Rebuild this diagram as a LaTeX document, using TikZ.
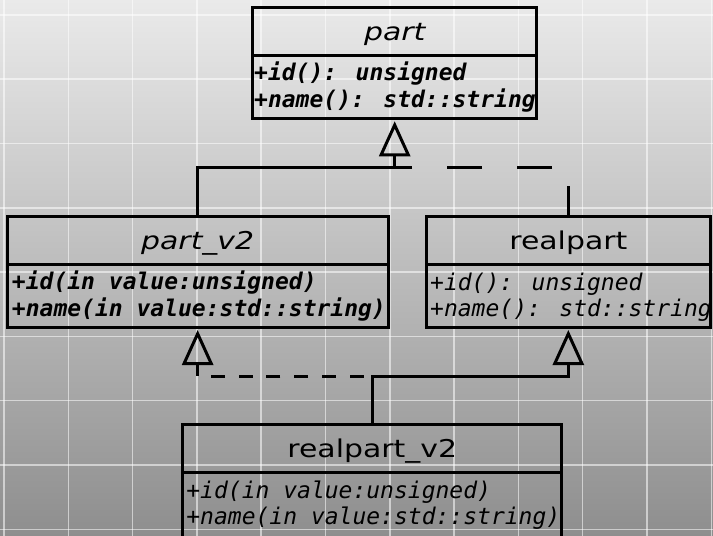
\documentclass[tikz,border=0pt]{standalone}
\usepackage{fontspec}
\usetikzlibrary{arrows.meta}
\newfontfamily\titlefont[FakeStretch=1.22]{DejaVu Sans}
\newfontfamily\attrfont{DejaVu Sans Mono}
\definecolor{bgtop}{HTML}{EAEAEA}
\definecolor{bgbot}{HTML}{8E8E8E}
\tikzset{
  classbox/.style={draw=black, line width=3pt, inner sep=0pt, outer sep=0pt, anchor=north west},
  divider/.style={draw=black, line width=3pt},
  titletext/.style={inner sep=0pt, anchor=base, font=\titlefont\fontsize{24.5}{30}\selectfont},
  attrtext/.style={inner sep=0pt, anchor=base west, font=\attrfont\fontsize{#1}{26}\selectfont\itshape},
  conn/.style={draw=black, line width=3pt, line join=miter},
  gen/.style={-{Triangle[open, length=35pt, width=31pt]}, shorten >=3pt},
  gridline/.style={draw=white, opacity=0.55, line width=1.5pt}
}
\begin{document}
\begin{tikzpicture}[x=1pt,y=-1pt]
\useasboundingbox (0,0) rectangle (713,536);
\clip (0,0) rectangle (713,536);
\shade[top color=bgtop, bottom color=bgbot] (0,0) rectangle (713,536);
\foreach \i in {0,...,11} \draw[gridline] ({4+64.3*\i},0) -- ({4+64.3*\i},536);
\foreach \j in {0,...,8} \draw[gridline] (0,{14.9+64.3*\j}) -- (713,{14.9+64.3*\j});

% classes
\node[classbox, minimum width=284pt, minimum height=111pt] (part) at (252.7,7.3) {};
\draw[divider] ([yshift=-48.5pt]part.north west) -- ([yshift=-48.5pt]part.north east);
\node[titletext] (partT) at ([yshift=-33pt]part.north) {\itshape part};
\node[attrtext=23] (partA) at ([xshift=1.3pt,yshift=-73pt]part.north west) {\bfseries +id(): unsigned};
\node[attrtext=23] (partB) at ([xshift=1.3pt,yshift=-99.7pt]part.north west) {\bfseries +name(): std::string};

\node[classbox, minimum width=380.7pt, minimum height=111pt] (pv2) at (7.3,216) {};
\draw[divider] ([yshift=-48.5pt]pv2.north west) -- ([yshift=-48.5pt]pv2.north east);
\node[titletext] (pv2T) at ([yshift=-33pt]pv2.north) {\itshape part\_v2};
\node[attrtext=23] (pv2A) at ([xshift=4.5pt,yshift=-73.5pt]pv2.north west) {\bfseries +id(in value:unsigned)};
\node[attrtext=23] (pv2B) at ([xshift=4.5pt,yshift=-100.2pt]pv2.north west) {\bfseries +name(in value:std::string)};

\node[classbox, minimum width=284.7pt, minimum height=111pt] (rp) at (426,216) {};
\draw[divider] ([yshift=-48.5pt]rp.north west) -- ([yshift=-48.5pt]rp.north east);
\node[titletext] (rpT) at ([yshift=-33pt]rp.north) {realpart};
\node[attrtext=23] (rpA) at ([xshift=4pt,yshift=-74pt]rp.north west) {+id(): unsigned};
\node[attrtext=23] (rpB) at ([xshift=4pt,yshift=-100.7pt]rp.north west) {+name(): std::string};

\node[classbox, minimum width=379pt, minimum height=113pt] (rv2) at (182.7,424.7) {};
\draw[divider] ([yshift=-48pt]rv2.north west) -- ([yshift=-48pt]rv2.north east);
\node[titletext] (rv2T) at ([yshift=-33pt]rv2.north) {realpart\_v2};
\node[attrtext=23] (rv2A) at ([xshift=3.5pt,yshift=-73.5pt]rv2.north west) {+id(in value:unsigned)};
\node[attrtext=23] (rv2B) at ([xshift=3.5pt,yshift=-100.2pt]rv2.north west) {+name(in value:std::string)};

% connectors
\coordinate (j1) at (part.south |- 0,167.3);
\coordinate (j2) at (rv2.north |- 0,376);
\draw[conn, gen] (pv2.north) |- (j1) -- (part.south);
\draw[conn, dash pattern=on 35pt off 35pt, dash phase=5pt] (rp.north) |- (j1);
\draw[conn, gen] (rv2.north) -- (j2) -| (rp.south);
\draw[conn, gen, dash pattern=on 14pt off 13.7pt, dash phase=19pt] (j2) -| (pv2.south);
\end{tikzpicture}
\end{document}
